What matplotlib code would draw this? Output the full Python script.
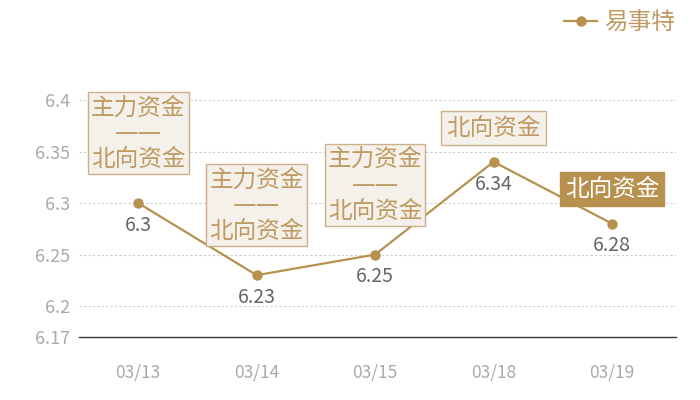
import matplotlib
matplotlib.use("Agg")
import matplotlib.pyplot as plt
from matplotlib.lines import Line2D

plt.rcParams['font.family'] = ['Noto Sans CJK SC', 'DejaVu Sans']

# data
dates = ["03/13", "03/14", "03/15", "03/18", "03/19"]
prices = [6.30, 6.23, 6.25, 6.34, 6.28]
flow_labels = ["主力资金\n——\n北向资金", "主力资金\n——\n北向资金",
               "主力资金\n——\n北向资金", "北向资金", "北向资金"]
y_ticks = [6.17, 6.2, 6.25, 6.3, 6.35, 6.4]
y_tick_labels = ["6.17", "6.2", "6.25", "6.3", "6.35", "6.4"]
series_name = "易事特"

gold = "#b8914f"
gold_text = "#bf9a62"
box_face = "#f4f0ea"
box_edge = "#cdb08a"

fig = plt.figure(figsize=(7, 4), dpi=100)
ax = fig.add_axes([79 / 700, 1 - 337 / 400, 597 / 700, (337 - 100) / 400])

x = list(range(len(dates)))
ax.plot(x, prices, color=gold, linewidth=1.6, marker="o", markersize=6.5,
        zorder=3)

ax.set_xlim(-0.5, 4.54)
ax.set_ylim(6.17, 6.4)
ax.set_xticks(x)
ax.set_xticklabels(dates)
ax.set_yticks(y_ticks)
ax.set_yticklabels(y_tick_labels)
ax.tick_params(axis="both", length=0, colors="#aaaaaa", labelsize=13)
ax.tick_params(axis="x", pad=19, labelsize=12.5)
ax.tick_params(axis="y", pad=6.5)

for t in y_ticks[1:]:
    ax.axhline(t, color="#cccccc", linewidth=0.8, linestyle=(0, (2, 2)),
               zorder=1)

for side in ["top", "right", "left"]:
    ax.spines[side].set_visible(False)
ax.spines["bottom"].set_color("#333333")
ax.spines["bottom"].set_linewidth(1.0)

# value labels below the points
for xi, v in zip(x, prices):
    ax.annotate(f"{v:g}", xy=(xi, v), xytext=(0, -16), textcoords="offset points",
                ha="center", va="center", fontsize=14, color="#666666")

# flow boxes above the points (DejaVu first so the dashes join up)
last = len(dates) - 1
for xi, v, lab in zip(x, prices, flow_labels):
    multi = "\n" in lab
    off = 23 if multi else 16
    pad = 0.13 if multi else 0.21
    if xi == last:
        face, edge, col = gold, gold, "white"
    else:
        face, edge, col = box_face, box_edge, gold_text
    ax.annotate(lab, xy=(xi, v), xytext=(0, off), textcoords="offset points",
                ha="center", va="bottom", fontsize=17, color=col,
                family=['DejaVu Sans', 'Noto Sans CJK SC'],
                linespacing=1.1, multialignment="center",
                bbox=dict(boxstyle=f"square,pad={pad}", facecolor=face,
                          edgecolor=edge, linewidth=1.0),
                zorder=4)

# legend
handle = Line2D([0], [0], color=gold, linewidth=1.6, marker="o", markersize=6.5)
fig.legend([handle], [series_name], loc="upper right",
           bbox_to_anchor=(0.995, 1.025), frameon=False, fontsize=17,
           labelcolor=gold_text, handlelength=1.4, handletextpad=0.3)

fig.savefig("out.png", dpi=100)
